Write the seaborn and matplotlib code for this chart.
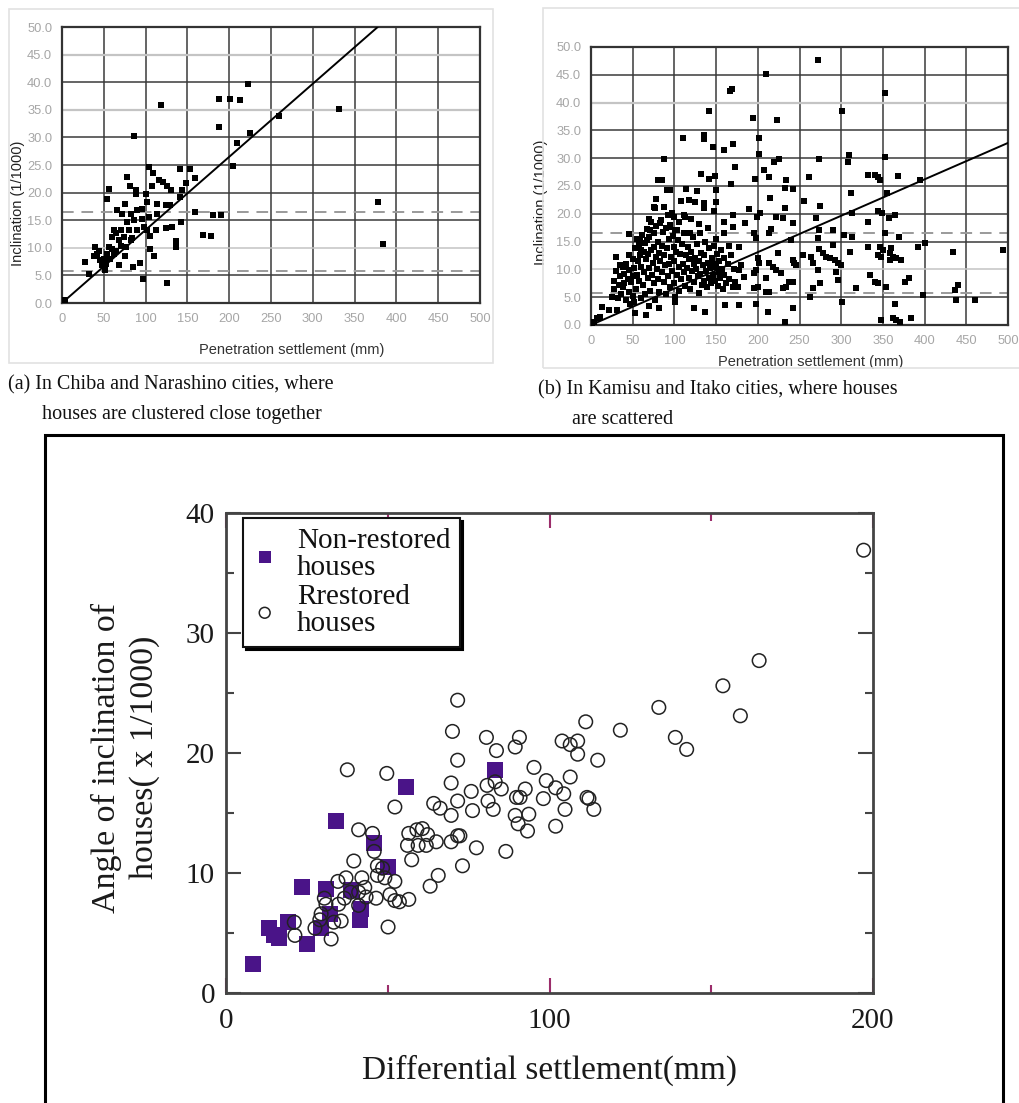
import numpy as np
import pandas as pd
import matplotlib
matplotlib.use("Agg")
import matplotlib.pyplot as plt
from matplotlib.patches import Rectangle
import seaborn as sns

# ---------------- data: panel (a) Chiba / Narashino ----------------
a_x = [4, 223, 119, 188, 201, 213, 188, 331, 259, 225, 209, 204, 86, 378, 384,
       159, 181, 190, 169, 178, 125, 97, 32, 27, 85, 93, 68, 110, 105, 136, 136,
       142, 105, 113, 124, 131, 141, 153, 159, 148, 144, 141, 104, 109, 116, 121,
       126, 130, 108, 100, 102, 78, 81, 88, 88, 56, 54, 75, 66, 72, 82, 90, 96,
       114, 124, 129, 114, 104, 96, 86, 78, 80, 70, 64, 60, 62, 68, 74, 84, 90,
       98, 102, 56, 60, 64, 54, 50, 46, 42, 40, 44, 38, 52, 53, 58, 62, 75, 76,
       82, 70, 52, 48]
a_y = [0.6, 39.7, 35.9, 36.9, 37.0, 36.7, 31.9, 35.1, 33.9, 30.8, 28.9, 24.8,
       30.2, 18.3, 10.7, 16.4, 16.0, 16.0, 12.4, 12.1, 3.7, 4.3, 5.2, 7.4, 6.5,
       7.2, 6.8, 8.6, 9.7, 10.1, 11.2, 14.7, 12.1, 13.3, 13.6, 13.8, 24.3, 24.3,
       22.6, 21.7, 20.5, 19.2, 24.6, 23.6, 22.2, 21.9, 21.2, 20.4, 21.2, 19.8,
       18.3, 22.8, 21.2, 20.4, 19.8, 20.7, 18.9, 17.9, 16.8, 16.2, 16.2, 16.8,
       17.1, 17.9, 17.8, 17.8, 16.2, 15.6, 15.3, 15.0, 14.7, 13.2, 13.2, 12.6,
       12.0, 13.2, 11.4, 12.0, 11.7, 13.2, 13.8, 13.2, 10.1, 9.8, 9.5, 8.9, 8.0,
       7.7, 8.9, 10.1, 9.5, 8.6, 6.5, 7.1, 8.0, 8.9, 8.6, 10.1, 11.4, 10.4, 5.9,
       6.8]
a_fit_slope = 0.1324
a_dashed = [16.5, 5.8]

# ---------------- data: panel (b) Kamisu / Itako ----------------
b_x = [272, 210, 167, 169, 353, 142, 301, 194, 223, 110, 135, 135, 201, 146,
       160, 170, 88, 202, 220, 226, 273, 309, 308, 352, 132, 149, 142, 173, 197,
       207, 213, 234, 261, 332, 340, 344, 346, 368, 394, 80, 85, 78, 91, 95, 114,
       127, 150, 150, 168, 108, 117, 125, 135, 136, 147, 215, 233, 242, 255, 312,
       355, 75, 77, 111, 113, 160, 170, 185, 190, 199, 203, 222, 230, 233, 242,
       270, 274, 313, 344, 349, 357, 365, 332, 46, 59, 71, 67, 83, 95, 103, 97,
       119, 131, 160, 170, 178, 196, 198, 216, 214, 240, 273, 272, 290, 303, 313,
       353, 369, 400, 392, 434, 494, 346, 350, 358, 360, 344, 348, 362, 358, 366,
       372, 332, 311, 290, 273, 278, 282, 286, 292, 296, 300, 294, 296, 272, 264,
       266, 254, 242, 244, 246, 224, 213, 218, 222, 200, 202, 198, 195, 228, 210,
       180, 178, 183, 173, 176, 195, 200, 210, 214, 230, 234, 238, 242, 266, 262,
       274, 318, 301, 334, 340, 344, 354, 364, 348, 362, 366, 370, 384, 377, 381,
       398, 436, 440, 438, 460, 233, 242, 198, 212, 177, 161, 137, 123, 101, 101,
       81, 66, 53, 31, 22, 13, 7, 11, 3, 1,
       25, 27, 28, 30, 30, 32, 33, 35, 36, 38, 38, 40, 40, 42, 42, 44, 45, 46,
       47, 48, 50, 50, 51, 52, 53, 54, 55, 55, 56, 57, 58, 59, 60, 60, 61, 62,
       63, 64, 65, 65, 66, 67, 68, 68, 69, 70, 70, 71, 72, 72, 73, 74, 75, 75,
       76, 77, 78, 78, 79, 80, 80, 81, 82, 83, 84, 85, 85, 86, 87, 88, 89, 90,
       90, 91, 92, 93, 94, 95, 95, 96, 97, 98, 99, 100, 100, 101, 102, 103, 104,
       105, 106, 107, 108, 109, 110, 111, 112, 113, 114, 115, 116, 117, 118, 119,
       120, 121, 122, 123, 124, 125, 126, 127, 128, 129, 130, 131, 132, 133, 134,
       135, 136, 137, 138, 139, 140, 141, 142, 143, 144, 145, 146, 147, 148, 149,
       150, 151, 152, 153, 154, 155, 156, 157, 158, 159, 160, 162, 164, 166, 168,
       170, 172, 165, 150, 140, 130, 120, 100, 105, 92, 88, 60, 58, 50, 45, 35,
       70]
b_y = [47.6, 45.1, 42.1, 42.5, 41.7, 38.4, 38.4, 37.2, 36.9, 33.7, 34.1, 33.5,
       33.7, 32.0, 31.4, 32.5, 29.9, 30.8, 29.3, 29.8, 29.9, 30.5, 29.3, 30.2,
       27.2, 26.8, 26.2, 28.4, 26.3, 27.8, 26.6, 26.0, 26.6, 26.9, 26.9, 26.6,
       26.0, 26.8, 26.0, 26.0, 26.0, 22.6, 24.3, 24.3, 24.4, 24.1, 24.3, 22.2,
       25.4, 22.3, 22.5, 22.2, 22.0, 21.1, 20.5, 22.8, 24.6, 24.4, 22.3, 23.7,
       23.7, 21.3, 21.0, 19.8, 19.5, 18.6, 19.8, 18.3, 20.8, 19.5, 20.1, 19.5,
       19.2, 21.0, 18.3, 19.2, 21.4, 20.1, 20.5, 20.2, 19.2, 19.8, 18.6, 16.3,
       15.3, 17.1, 15.3, 18.3, 17.7, 17.1, 20.1, 16.5, 16.5, 16.5, 17.7, 14.1,
       16.5, 15.6, 17.2, 16.5, 15.3, 17.1, 15.6, 17.1, 16.2, 15.9, 16.5, 15.9,
       14.7, 14.1, 13.2, 13.5, 14.1, 13.5, 12.9, 13.8, 12.6, 12.3, 12.3, 11.7,
       12.0, 11.7, 14.1, 13.2, 14.4, 13.6, 12.9, 12.3, 12.0, 11.7, 11.1, 10.8,
       9.6, 8.1, 9.9, 12.3, 11.1, 12.6, 11.7, 11.1, 10.8, 12.9, 11.1, 10.5, 9.9,
       12.0, 11.1, 9.9, 9.3, 9.3, 8.4, 10.8, 9.9, 8.7, 7.8, 6.9, 6.6, 6.9, 6.0,
       6.0, 6.6, 6.9, 7.8, 7.8, 6.6, 5.1, 7.5, 6.6, 4.2, 9.0, 7.8, 7.5, 6.9, 3.7,
       0.9, 1.2, 0.9, 0.6, 1.2, 7.8, 8.4, 5.4, 6.3, 7.2, 4.5, 4.5, 0.6, 3.0, 3.7,
       2.4, 3.6, 3.6, 2.4, 3.0, 4.2, 5.1, 3.0, 1.8, 2.1, 2.7, 2.7, 3.2, 1.2, 1.5,
       0.6, 0.3,
       5.0, 6.5, 8.0, 9.8, 12.2, 4.8, 7.2, 8.8, 5.6, 10.5, 6.8, 9.2, 7.5, 4.5,
       11.0, 8.3, 6.0, 9.9, 3.8, 7.8, 5.2, 8.8, 10.2, 4.2, 13.8, 6.5, 9.0, 15.5,
       11.5, 14.5, 8.0, 12.5, 4.8, 10.5, 16.2, 7.2, 13.2, 9.5, 14.8, 5.5, 11.8,
       17.2, 8.5, 12.8, 3.5, 10.2, 15.8, 6.2, 13.5, 18.5, 9.0, 11.2, 16.5, 7.5,
       14.0, 4.5, 12.2, 17.8, 10.0, 8.2, 15.0, 13.0, 6.0, 11.5, 18.8, 9.5, 14.2,
       16.8, 7.8, 12.5, 10.8, 17.5, 5.5, 13.8, 8.8, 15.5, 11.0, 18.0, 6.8, 12.2,
       9.8, 16.0, 14.0, 7.5, 11.5, 17.0, 13.2, 9.0, 15.2, 6.2, 10.5, 12.8, 8.2,
       14.5, 11.0, 16.5, 9.5, 7.0, 12.5, 10.2, 14.0, 8.5, 11.8, 6.5, 13.2, 9.8,
       15.8, 11.0, 7.8, 12.0, 10.0, 14.5, 8.8, 5.8, 11.5, 9.2, 13.0, 7.2, 10.8,
       12.5, 8.0, 15.0, 9.8, 6.8, 11.2, 13.8, 8.5, 10.2, 7.5, 12.0, 9.0, 14.2,
       11.0, 8.0, 10.5, 12.8, 7.0, 9.5, 11.5, 8.5, 13.5, 10.0, 6.5, 12.0, 9.0,
       7.5, 11.0, 8.2, 12.5, 6.8, 10.0, 14.2, 15.5, 17.5, 18.2, 19.0, 19.5,
       18.5, 19.8, 21.2, 13.5, 15.0, 11.8, 12.5, 10.8, 19.0]
b_fit_slope = 0.0655
b_dashed = [16.5, 5.7]

# ---------------- data: bottom panel ----------------
non_x = [8.5, 13.3, 14.9, 16.4, 19.3, 23.6, 25.1, 29.4, 30.8, 32.3, 34.0, 38.7,
         41.6, 41.4, 45.8, 50.1, 55.7, 83.0]
non_y = [2.4, 5.4, 4.8, 4.6, 5.9, 8.8, 4.1, 5.4, 8.7, 6.6, 14.3, 8.6, 7.0, 6.1,
         12.5, 10.5, 17.2, 18.6]
res_x = [197.1, 164.8, 153.6, 159.0, 133.8, 138.9, 142.4, 121.9, 111.2, 103.9,
         106.4, 108.7, 108.7, 114.9, 106.4, 111.6, 112.2, 113.7, 104.8, 104.4,
         101.9, 99.0, 101.9, 98.1, 95.2, 90.7, 89.4, 90.9, 89.8, 92.5, 89.4, 90.3,
         93.6, 93.2, 86.5, 80.5, 83.6, 80.7, 81.0, 82.6, 83.2, 85.1, 75.8, 76.2,
         71.6, 70.0, 71.6, 69.6, 71.6, 69.6, 66.2, 64.2, 69.6, 71.6, 72.3, 73.1,
         77.4, 65.0, 61.9, 59.4, 56.1, 56.5, 59.0, 60.7, 62.3, 57.4, 65.6, 63.1,
         56.5, 52.2, 49.7, 37.5, 41.0, 45.3, 45.8, 39.5, 46.8, 48.4, 52.2, 50.7,
         52.2, 49.1, 53.6, 50.1, 46.8, 46.4, 42.0, 42.9, 41.0, 43.3, 41.0, 37.1,
         36.6, 38.5, 34.6, 34.8, 30.4, 30.9, 29.4, 29.0, 33.3, 35.6, 32.5, 27.5,
         21.1, 21.3]
res_y = [36.9, 27.7, 25.6, 23.1, 23.8, 21.3, 20.3, 21.9, 22.6, 21.0, 20.7, 21.0,
         19.9, 19.4, 18.0, 16.3, 16.2, 15.3, 15.3, 16.6, 17.1, 17.7, 13.9, 16.2,
         18.8, 21.3, 20.5, 16.3, 16.3, 17.0, 14.8, 14.1, 14.9, 13.5, 11.8, 21.3,
         20.2, 17.3, 16.0, 15.3, 17.6, 17.0, 16.8, 15.2, 24.4, 21.8, 19.4, 17.5,
         16.0, 14.8, 15.4, 15.8, 12.6, 13.1, 13.1, 10.6, 12.1, 12.6, 12.3, 12.3,
         12.3, 13.3, 13.6, 13.7, 13.2, 11.1, 9.8, 8.9, 7.8, 15.5, 18.3, 18.6,
         13.6, 13.3, 11.8, 11.0, 10.6, 10.4, 9.3, 8.2, 7.7, 9.6, 7.6, 5.5, 9.8,
         7.9, 9.6, 8.8, 8.4, 8.0, 7.3, 9.6, 7.9, 8.4, 9.3, 7.4, 7.9, 7.4, 6.6,
         6.1, 5.9, 6.0, 4.5, 5.4, 5.9, 4.8]

top_xticks = list(range(0, 501, 50))
top_yticks = [0, 5, 10, 15, 20, 25, 30, 35, 40, 45, 50]

# ---------------- figure ----------------
sns.set_theme(style="white")
plt.rcParams["font.family"] = ["Liberation Sans", "DejaVu Sans"]

W, H = 1019, 1103
fig = plt.figure(figsize=(W / 100, H / 100), dpi=100)
fig.patch.set_facecolor("white")


def px_axes(l, t, r, b):
    return fig.add_axes([l / W, 1 - b / H, (r - l) / W, (b - t) / H])


# light frames around top panels
fig.add_artist(Rectangle((9 / W, 1 - 363 / H), 484 / W, 354 / H,
                         transform=fig.transFigure, fill=False,
                         edgecolor="#e2e2e2", lw=1.2))
fig.add_artist(Rectangle((543 / W, 1 - 368 / H), 490 / W, 360 / H,
                         transform=fig.transFigure, fill=False,
                         edgecolor="#e2e2e2", lw=1.2))


def top_panel(ax, xs, ys, slope, dashed, gray_rows, xl_coords, yl_coords):
    df = pd.DataFrame({"x": xs, "y": ys})
    sns.scatterplot(data=df, x="x", y="y", marker="s", color="black", s=24,
                    linewidth=0, ax=ax, zorder=3)
    ax.axline((0, 0), slope=slope, color="black", lw=1.4, zorder=4)
    for d in dashed:
        ax.axhline(d, color="#9a9a9a", lw=1.4, ls=(0, (6, 4)), zorder=2)
    ax.set_xlim(0, 500)
    ax.set_ylim(0, 50)
    ax.set_xticks(top_xticks)
    ax.set_xticklabels([str(v) for v in top_xticks])
    ax.set_yticks(top_yticks)
    ax.set_yticklabels([f"{v:.1f}" for v in top_yticks])
    ax.grid(True, color="#3a3a3a", lw=1.1, zorder=1)
    for i, gl in enumerate(ax.yaxis.get_gridlines()):
        if top_yticks[i] in gray_rows:
            gl.set_color("#c4c4c4")
            gl.set_linewidth(1.6 if top_yticks[i] != 10 else 1.1)
    ax.tick_params(length=0, labelsize=9.3, labelcolor="#a6a6a6", pad=7)
    for sp in ax.spines.values():
        sp.set_color("#333333")
        sp.set_linewidth(1.6)
    ax.set_xlabel("Penetration settlement (mm)", fontsize=10.5, color="#333333")
    ax.set_ylabel("Inclination (1/1000)", fontsize=10.5, color="#222222")
    ax.xaxis.set_label_coords(*xl_coords)
    ax.yaxis.set_label_coords(*yl_coords)


ax_a = px_axes(62, 27, 480, 303)
top_panel(ax_a, a_x, a_y, a_fit_slope, a_dashed, [10, 35, 45],
          (0.55, -0.145), (-0.088, 0.36))
ax_b = px_axes(591, 47, 1008, 325)
top_panel(ax_b, b_x, b_y, b_fit_slope, b_dashed, [10, 40],
          (0.528, -0.108), (-0.103, 0.44))

serif = ["Liberation Serif", "DejaVu Serif"]
cap_kw = dict(fontsize=14.5, family=serif, va="center", ha="left", color="#111111")
fig.text(8 / W, 1 - 385 / H, "(a) In Chiba and Narashino cities, where", **cap_kw)
fig.text(42 / W, 1 - 415 / H, "houses are clustered close together", **cap_kw)
fig.text(538 / W, 1 - 390 / H, "(b) In Kamisu and Itako cities, where houses", **cap_kw)
fig.text(572 / W, 1 - 420 / H, "are scattered", **cap_kw)

# outer black frame of bottom panel
fig.add_artist(Rectangle((45 / W, 1 - 1120 / H), 958 / W, 685 / H,
                         transform=fig.transFigure, fill=False,
                         edgecolor="black", lw=2.2))

# ---------------- bottom panel ----------------
ax_c = px_axes(226, 513, 873, 993)
df_non = pd.DataFrame({"x": non_x, "y": non_y})
df_res = pd.DataFrame({"x": res_x, "y": res_y})
sns.scatterplot(data=df_non, x="x", y="y", marker="s", color="#4a1488", s=120,
                linewidth=0, ax=ax_c, label="Non-restored\nhouses", zorder=3)
sns.scatterplot(data=df_res, x="x", y="y", marker="o", color="black", s=95,
                ax=ax_c, label="Rrestored\nhouses", zorder=4)
coll = ax_c.collections[-1]
coll.set_facecolor("none")
coll.set_edgecolor("#222222")
coll.set_linewidth(1.1)

ax_c.set_xlim(0, 200)
ax_c.set_ylim(0, 40)
ax_c.set_xticks([0, 100, 200])
ax_c.set_xticks([50, 150], minor=True)
ax_c.set_yticks([0, 10, 20, 30, 40])
ax_c.set_yticks([5, 15, 25, 35], minor=True)
ax_c.tick_params(which="both", direction="in", top=True, right=True,
                 bottom=True, left=True,
                 labelsize=21, labelcolor="#1a1a1a", width=1.5)
ax_c.tick_params(which="major", length=11)
ax_c.tick_params(which="minor", length=6)
ax_c.tick_params(axis="x", which="both", color="#9b2d6b", pad=11)
ax_c.tick_params(axis="y", which="both", color="#444444", pad=8)
for lab in ax_c.get_xticklabels() + ax_c.get_yticklabels():
    lab.set_family(serif)
for sp in ax_c.spines.values():
    sp.set_color("#444444")
    sp.set_linewidth(2)

ax_c.set_xlabel("Differential settlement(mm)", fontsize=24, family=serif,
                color="#1a1a1a")
ax_c.xaxis.set_label_coords(0.5, -0.128)
ax_c.set_ylabel("Angle of inclination of\nhouses( x 1/1000)", fontsize=24.5,
                family=serif, color="#1a1a1a", linespacing=1.3)
ax_c.yaxis.set_label_coords(-0.102, 0.49)

leg = ax_c.legend(loc="upper left", bbox_to_anchor=(0.026, 0.99),
                  borderaxespad=0, frameon=True, fancybox=False,
                  shadow={"color": "black", "alpha": 1.0},
                  prop={"family": serif, "size": 21}, handlelength=0.8,
                  handletextpad=0.7, borderpad=0.35, labelspacing=0.1,
                  markerscale=0.8)
leg.get_frame().set_edgecolor("#111111")
leg.get_frame().set_linewidth(1.5)
leg.get_frame().set_facecolor("white")
leg.get_frame().set_alpha(1)
for t in leg.get_texts():
    t.set_linespacing(1.05)
    t.set_color("#111111")

fig.savefig("out.png", dpi=100, facecolor="white")
